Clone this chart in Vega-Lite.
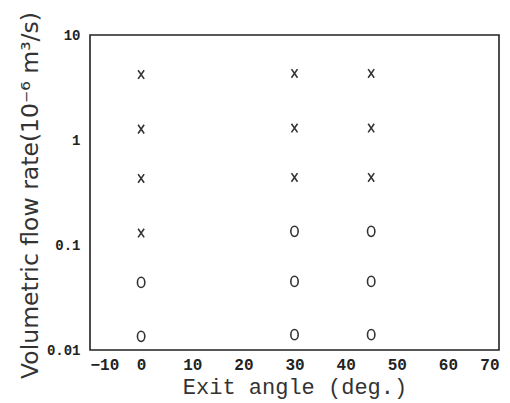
{
  "$schema": "https://vega.github.io/schema/vega-lite/v6.json",
  "autosize": "none",
  "width": 409,
  "height": 315,
  "padding": {"left": 90, "top": 35, "right": 11, "bottom": 53},
  "background": "white",
  "config": {
    "view": {"stroke": "#222", "strokeWidth": 1.6},
    "axis": {"grid": false, "ticks": false, "domain": false, "labelColor": "#222", "titleColor": "#333"}
  },
  "data": {
    "values": [
      {"angle": 0, "flow": 4.2, "result": "x"},
      {"angle": 0, "flow": 1.27, "result": "x"},
      {"angle": 0, "flow": 0.43, "result": "x"},
      {"angle": 0, "flow": 0.13, "result": "x"},
      {"angle": 0, "flow": 0.044, "result": "o"},
      {"angle": 0, "flow": 0.0135, "result": "o"},
      {"angle": 30, "flow": 4.3, "result": "x"},
      {"angle": 30, "flow": 1.3, "result": "x"},
      {"angle": 30, "flow": 0.44, "result": "x"},
      {"angle": 30, "flow": 0.135, "result": "o"},
      {"angle": 30, "flow": 0.045, "result": "o"},
      {"angle": 30, "flow": 0.014, "result": "o"},
      {"angle": 45, "flow": 4.3, "result": "x"},
      {"angle": 45, "flow": 1.3, "result": "x"},
      {"angle": 45, "flow": 0.44, "result": "x"},
      {"angle": 45, "flow": 0.135, "result": "o"},
      {"angle": 45, "flow": 0.045, "result": "o"},
      {"angle": 45, "flow": 0.014, "result": "o"}
    ]
  },
  "mark": {"type": "point", "filled": false, "strokeWidth": 1.6, "opacity": 1},
  "encoding": {
    "x": {
      "field": "angle", "type": "quantitative",
      "scale": {"domain": [-10, 70], "nice": false, "zero": false},
      "axis": {
        "values": [-10, 0, 10, 20, 30, 40, 50, 60, 70],
        "title": "Exit angle (deg.)",
        "labelFont": "Liberation Mono", "labelFontWeight": "bold", "labelFontSize": 16, "labelPadding": 6,
        "titleFont": "Liberation Mono", "titleFontSize": 22, "titleFontWeight": "normal", "titlePadding": 4
      }
    },
    "y": {
      "field": "flow", "type": "quantitative",
      "scale": {"type": "log", "domain": [0.01, 10], "nice": false},
      "axis": {
        "values": [0.01, 0.1, 1, 10],
        "format": "~g",
        "title": "Volumetric flow rate(10⁻⁶ m³/s)",
        "labelFont": "Liberation Mono", "labelFontWeight": "bold", "labelFontSize": 14, "labelPadding": 10,
        "titleFont": "DejaVu Sans", "titleFontSize": 23.5, "titleFontWeight": "normal",
        "titleX": -48, "titleY": 160
      }
    },
    "shape": {
      "field": "result", "type": "nominal", "legend": null,
      "scale": {
        "domain": ["x", "o"],
        "range": ["M-0.7,-1L0.7,1M-0.7,1L0.7,-1", "M0,-1A0.72,1 0 1,1 0,1A0.72,1 0 1,1 0,-1Z"]
      }
    },
    "size": {
      "field": "result", "type": "nominal", "legend": null,
      "scale": {"domain": ["x", "o"], "range": [75, 105]}
    },
    "color": {"value": "#333"}
  }
}
